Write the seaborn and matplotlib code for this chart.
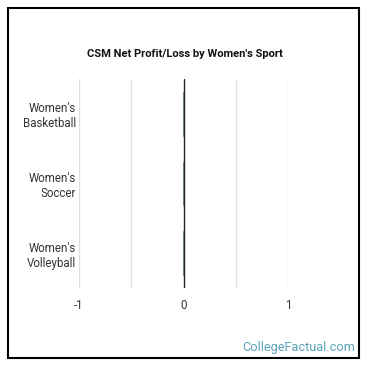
import pandas as pd
import matplotlib.pyplot as plt
import seaborn as sns
from matplotlib.patches import Rectangle

sports = ["Women's\nBasketball", "Women's\nSoccer", "Women's\nVolleyball"]
net_profit = [-0.01, -0.01, -0.01]
x_ticks = [-1, 0, 1]
x_grid = [-1, -0.5, 0, 0.5, 1]

df = pd.DataFrame({'sport': sports, 'net': net_profit})

sns.set_style('white')
plt.rcParams['font.family'] = ['Roboto', 'DejaVu Sans']

fig = plt.figure(figsize=(3.7, 3.7), dpi=100)
ax = fig.add_axes([0.2135, 0.222, 0.565, 0.564])

for g in x_grid:
    ax.axvline(g, color='#222222' if g == 0 else '#dddddd', lw=1.0 if g == 0 else 0.9, zorder=0 if g != 0 else 3)

sns.barplot(data=df, x='net', y='sport', color='#2b5b6b', width=0.65, ax=ax, zorder=2)

ax.set_xlim(-1, 1)
ax.set_xticks(x_ticks)
ax.set_xticklabels([str(t) for t in x_ticks])
ax.set_xlabel('')
ax.set_ylabel('')
ax.tick_params(axis='both', length=0, labelsize=8.3, colors='#333333')
ax.tick_params(axis='x', pad=8)
ax.tick_params(axis='y', pad=2)
for lbl in ax.get_yticklabels():
    lbl.set_horizontalalignment('right')
    lbl.set_multialignment('right')
for s in ax.spines.values():
    s.set_visible(False)

fig.text(0.5, 0.855, "CSM Net Profit/Loss by Women's Sport", ha='center', va='center',
         fontsize=8, fontweight='bold', color='#111111')
fig.text(0.96, 0.06, 'CollegeFactual.com', ha='right', va='center',
         fontsize=9.2, color='#5ba3b8')

fig.patches.append(Rectangle((8 / 370, 1 - 358 / 370), 351 / 370, 350 / 370,
                             transform=fig.transFigure, fill=False, edgecolor='black', lw=1.5))

fig.savefig('out.png', dpi=100)
